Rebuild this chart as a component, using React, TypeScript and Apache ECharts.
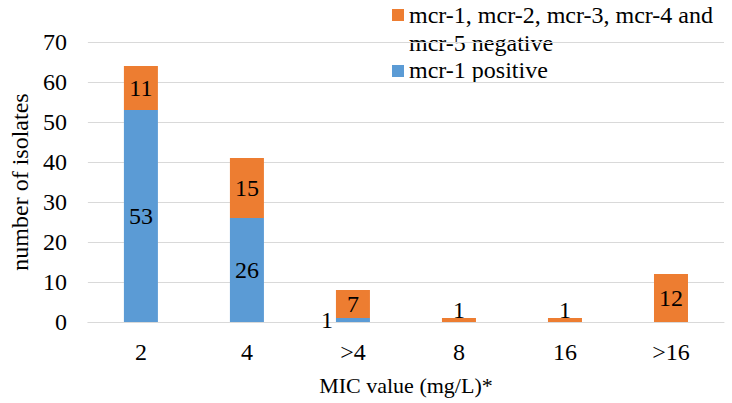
import React, { useEffect, useRef } from "react";
import * as echarts from "echarts";

const categories = ["2", "4", ">4", "8", "16", ">16"];
const positiveValues = [53, 26, 1, 0, 0, 0];
const negativeValues = [11, 15, 7, 1, 1, 12];
const positiveName = "mcr-1 positive";
const negativeName = "mcr-1, mcr-2, mcr-3, mcr-4 and mcr-5 negative";
const negativeLegendText = "mcr-1, mcr-2, mcr-3, mcr-4 and\nmcr-5 negative";

const BLUE = "#5B9BD5";
const ORANGE = "#ED7D31";
const FONT = "Liberation Serif";

export default function App() {
  const ref = useRef<HTMLDivElement>(null);
  useEffect(() => {
    if (!ref.current) return;
    const chart = echarts.init(ref.current, undefined, { renderer: "svg" });
    const posData = positiveValues.map((v, i) =>
      categories[i] === ">4" ? { value: v, label: { position: "left", distance: 3 } } : { value: v }
    );
    const negData = negativeValues.map((v) =>
      v === 1 ? { value: v, label: { position: "top", distance: -4 } } : { value: v }
    );
    const lbl = { fontSize: 24, color: "#000", fontFamily: FONT };
    chart.setOption({
      animation: false,
      textStyle: { fontFamily: FONT, color: "#000" },
      grid: { left: 79, right: 8, top: 42, bottom: 81 },
      xAxis: {
        type: "category",
        data: categories,
        axisTick: { show: false },
        axisLine: { lineStyle: { color: "#D9D9D9", width: 1 } },
        axisLabel: { ...lbl, margin: 18 },
        name: "MIC value (mg/L)*",
        nameLocation: "middle",
        nameGap: 52,
        nameTextStyle: { fontSize: 22, color: "#000", fontFamily: FONT },
      },
      yAxis: {
        type: "value",
        min: 0,
        max: 70,
        interval: 10,
        axisLine: { show: false },
        axisTick: { show: false },
        splitLine: { lineStyle: { color: "#D9D9D9", width: 1 } },
        axisLabel: { ...lbl, margin: 21 },
        name: "number of isolates",
        nameLocation: "middle",
        nameGap: 50,
        nameTextStyle: { ...lbl },
      },
      series: [
        {
          name: positiveName,
          type: "bar",
          stack: "total",
          barWidth: 34,
          data: posData,
          itemStyle: { color: BLUE },
          label: {
            show: true,
            position: "inside",
            ...lbl,
            formatter: (p: any) => (p.value ? String(p.value) : ""),
          },
        },
        {
          name: negativeName,
          type: "bar",
          stack: "total",
          barWidth: 34,
          data: negData,
          itemStyle: { color: ORANGE },
          label: {
            show: true,
            position: "inside",
            ...lbl,
            formatter: (p: any) => (p.value ? String(p.value) : ""),
          },
        },
      ],
      graphic: [
        { type: "rect", shape: { x: 392, y: 9, width: 12, height: 12 }, style: { fill: ORANGE } },
        {
          type: "text",
          x: 409,
          y: 1,
          style: {
            text: negativeLegendText,
            fontSize: 24,
            fontFamily: FONT,
            lineHeight: 28,
            fill: "#000",
            verticalAlign: "top",
          },
        },
        { type: "rect", shape: { x: 392, y: 65, width: 12, height: 12 }, style: { fill: BLUE } },
        {
          type: "text",
          x: 409,
          y: 56,
          style: {
            text: positiveName,
            fontSize: 24,
            fontFamily: FONT,
            lineHeight: 28,
            fill: "#000",
            verticalAlign: "top",
          },
        },
      ],
    });
    return () => chart.dispose();
  }, []);
  return <div ref={ref} style={{ width: 732, height: 403, position: "absolute", left: 0, top: 0 }} />;
}
